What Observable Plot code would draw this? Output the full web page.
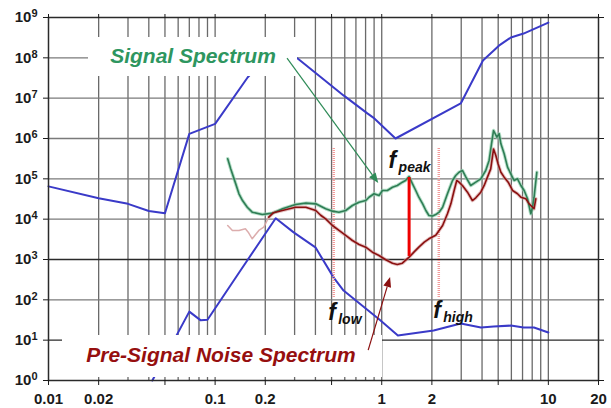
<!DOCTYPE html>
<html><head><meta charset="utf-8">
<script src="https://cdn.jsdelivr.net/npm/d3@7"></script>
<script src="https://cdn.jsdelivr.net/npm/@observablehq/plot@0.6"></script>
<style>
html,body{margin:0;padding:0;background:#fff;}
#chart{width:611px;height:408px;}
</style></head><body><div id="chart"></div>
<script>
// ---- axes / ticks ----
const xTicks = [0.01,0.02,0.05,0.1,0.2,0.5,1,2,5,10,20];
const xTickLabels = ["0.01","0.02","0.05","0.1","0.2","0.5","1","2","5","10","20"];
const yTicks = [1,1e1,1e2,1e3,1e4,1e5,1e6,1e7,1e8,1e9];
const yTickBase = "10";
const yTickExp = ["0","1","2","3","4","5","6","7","8","9"];
const gridX = [0.02,0.03,0.04,0.05,0.06,0.07,0.08,0.09,0.1,0.2,0.3,0.4,0.5,0.6,0.7,0.8,0.9,1,2,3,4,5,6,7,8,9,10];
const gridYLight = [1e2,1e4,1e5,1e6,1e7,1e8];
const gridYDark = [1e1,1e3];

// ---- upper blue envelope ----
const upperF = [0.01,0.02,0.03,0.04,0.05,0.07,0.1,0.157,0.22,0.313,0.59,0.82,0.89,1.21,2.98,4.05,5.05,5.96,7.1,10];
const upperP = [6.5e4,3.3e4,2.4e4,1.6e4,1.4e4,1.3e6,2.3e6,3.3e7,1.5e8,9.6e7,1.17e7,4.2e6,3.3e6,1e6,7.4e6,8.6e7,2e8,3.2e8,4e8,7.5e8];

// ---- lower blue envelope ----
const lowerF = [0.042,0.07,0.082,0.09,0.142,0.231,0.296,0.40,0.515,0.59,0.98,1.25,2.05,2.98,3.94,4.7,5.96,7.1,8.2,10];
const lowerP = [1,51,31,32,535,1.05e4,4.7e3,2e3,355,170,31,13,17.4,26,20.6,21.8,23,20.6,20.6,15.5];

// ---- signal spectrum ----
const sigF = [0.119,0.124,0.133,0.139,0.146,0.156,0.167,0.192,0.221,0.254,0.304,0.350,0.402,0.461,0.506,0.554,0.608,0.667,0.731,0.802,0.839,0.899,0.963,1.01,1.08,1.16,1.24,1.33,1.39,1.46,1.53,1.60,1.67,1.76,1.84,1.92,2.02,2.11,2.21,2.32,2.48,2.66,2.78,2.91,3.05,3.20,3.42,3.67,3.93,4.21,4.41,4.56,4.69,4.91,5.07,5.19,5.43,5.69,5.95,6.23,6.53,6.84,7.16,7.50,7.85,8.04,8.21,8.53];
const sigP = [3.14e5,1.77e5,7.5e4,4.26e4,2.9e4,1.98e4,1.49e4,1.31e4,1.41e4,1.81e4,2.3e4,2.5e4,2.4e4,1.81e4,1.58e4,1.49e4,1.64e4,2.18e4,2.64e4,2.9e4,3.5e4,4.26e4,3.87e4,5.14e4,5.14e4,6.2e4,6.84e4,8.26e4,9.1e4,1.14e5,7.5e4,5.14e4,3.5e4,2.4e4,1.64e4,1.23e4,1.2e4,1.3e4,1.49e4,1.98e4,4.26e4,9.1e4,1.21e5,1.46e5,1.61e5,1.1e5,6.84e4,8.26e4,1.0e5,1.61e5,2.85e5,7.4e5,1.58e6,1.08e6,1.31e6,7.4e5,4.18e5,1.95e5,1.33e5,9.1e4,1.0e5,6.84e4,5.14e4,3.2e4,1.36e4,1.98e4,3.5e4,1.46e5];

// ---- pre-signal noise spectrum ----
const noiseF = [0.119,0.127,0.139,0.152,0.158,0.167,0.183,0.196,0.210,0.224,0.253,0.304,0.350,0.402,0.430,0.461,0.506,0.554,0.608,0.667,0.731,0.802,0.879,0.963,1.057,1.16,1.24,1.33,1.46,1.56,1.67,1.80,1.92,2.11,2.21,2.32,2.48,2.60,2.72,2.82,2.91,3.05,3.27,3.50,3.67,3.93,4.12,4.31,4.51,4.69,4.84,4.99,5.19,5.43,5.74,6.10,6.53,6.84,7.33,7.67,8.04,8.21,8.41];
const noiseP = [6.97e3,5.24e3,5.24e3,5.77e3,4.75e3,3.26e3,5.24e3,6.32e3,1.12e4,1.45e4,1.64e4,1.98e4,1.98e4,1.64e4,1.25e4,1.02e4,6.97e3,5.24e3,3.94e3,2.96e3,2.36e3,2.02e3,1.52e3,1.26e3,984,811,752,811,1.14e3,1.52e3,2.02e3,2.69e3,3.26e3,4.0e3,5.24e3,6.97e3,1.36e4,2.4e4,5.14e4,9.1e4,8.26e4,6.84e4,4.67e4,2.9e4,3.39e4,4.67e4,6.84e4,1.1e5,1.77e5,5.5e5,3.79e5,2.36e5,1.46e5,1.1e5,8.26e4,5.14e4,4.26e4,3.51e4,3.2e4,2.4e4,1.98e4,1.82e4,3.2e4];

// ---- annotation values ----
const bandF = [0.515, 2.20];        // f_low, f_high
const bandRange = [115, 5.7e5];
const peakF = [1.46];               // f_peak
const peakRange = [1.19e3, 1.08e5];
const sigArrow = {x1:0.272, y1:9.6e7, x2:0.96, y2:7.7e4};
const noiseArrow = {x1:0.835, y1:5.5, x2:1.13, y2:358};

const toRows = (F, P) => F.map((f, i) => ({f, p: P[i]}));
const upper = toRows(upperF, upperP);
const lower = toRows(lowerF, lowerP);
const sig = toRows(sigF, sigP);
const noise = toRows(noiseF, noiseP);

const xLab = new Map(xTicks.map((t, i) => [t, xTickLabels[i]]));
const yLab = new Map(yTicks.map((t, i) => [t, yTickBase + "^" + yTickExp[i]]));

const chart = Plot.plot({
  width: 611, height: 408,
  marginLeft: 48, marginRight: 13, marginTop: 17, marginBottom: 28,
  x: {type: "log", domain: [0.01, 20]},
  y: {type: "log", domain: [1, 1e9]},
  style: {fontFamily: "'Liberation Sans', Arial, sans-serif", fontSize: "15px", fontWeight: "bold", color: "#1a1a1a", background: "#fff"},
  marks: [
    Plot.ruleX(gridX, {stroke: "#6a6a6a", strokeWidth: 1.3}),
    Plot.ruleY(gridYLight, {stroke: "#7a7a7a", strokeWidth: 1.3}),
    Plot.ruleY(gridYDark, {stroke: "#2a2a2a", strokeWidth: 1.3}),
    Plot.line(upper, {x: "f", y: "p", stroke: "#3a3ac8", strokeWidth: 2}),
    Plot.line(lower, {x: "f", y: "p", stroke: "#3a3ac8", strokeWidth: 2}),
    Plot.ruleX(bandF, {y1: bandRange[0], y2: bandRange[1], stroke: "#f29a9a", strokeWidth: 2.5, strokeDasharray: "1,1"}),
    Plot.line(sig, {x: "f", y: "p", stroke: "#8fd0ac", strokeWidth: 3.5, strokeOpacity: 0.65}),
    Plot.line(noise, {x: "f", y: "p", stroke: "#d8a4a4", strokeWidth: 1.5, strokeOpacity: 0.9, filter: d => d.f < 0.23}),
    Plot.line(noise, {x: "f", y: "p", stroke: "#d49a9a", strokeWidth: 3.5, strokeOpacity: 0.6, filter: d => d.f >= 0.2}),
    Plot.line(sig, {x: "f", y: "p", stroke: "#2f7d55", strokeWidth: 1.6}),
    Plot.line(noise, {x: "f", y: "p", stroke: "#8b1010", strokeWidth: 1.6, filter: d => d.f >= 0.2}),
    Plot.ruleX(peakF, {y1: peakRange[0], y2: peakRange[1], stroke: "#ee0000", strokeWidth: 3}),
    Plot.frame({stroke: "#2a2a2a", strokeWidth: 1.5}),
    Plot.axisX({ticks: xTicks, tickFormat: d => xLab.get(d), tickSize: 5, tickPadding: 8, label: null, fontSize: 15, fontWeight: "bold"}),
    Plot.axisX({anchor: "top", ticks: xTicks, tickFormat: () => "", tickSize: 4, label: null}),
    Plot.axisY({ticks: yTicks, tickFormat: d => yLab.get(d), tickSize: 5, tickPadding: 12, label: null, fontSize: 15, fontWeight: "bold"}),
    Plot.axisY({anchor: "right", ticks: yTicks, tickFormat: () => "", tickSize: 5, label: null})
  ]
});
document.getElementById("chart").appendChild(chart);

// ---- y tick labels: render exponent as a raised superscript ----
d3.select(chart).selectAll("text").each(function () {
  const t = d3.select(this);
  const s = t.text();
  if (/^10\^\d$/.test(s)) {
    const [b, e] = s.split("^");
    t.text(null);
    t.append("tspan").text(b);
    t.append("tspan").attr("dy", "-0.45em").attr("font-size", 11).text(e);
    // shift so the whole label stays right-aligned near the tick
    t.attr("transform", (t.attr("transform") || "") + " translate(6,0)");
  }
});

// ---- annotations on top ----
const sx = chart.scale("x"), sy = chart.scale("y");
const svg = d3.select(chart);
const g = svg.append("g");
const font = "'Liberation Sans', Arial, sans-serif";

g.append("rect").attr("x", 88).attr("y", 37).attr("width", 209).attr("height", 39).attr("fill", "#fff");
g.append("rect").attr("x", 62).attr("y", 335).attr("width", 320).attr("height", 42).attr("fill", "#fff");

function label(xp, yp, s, size, color, anchor) {
  return g.append("text").attr("x", xp).attr("y", yp).attr("text-anchor", anchor || "start")
    .attr("font-family", font).attr("font-weight", "bold").attr("font-style", "italic")
    .attr("font-size", size).attr("fill", color).text(s);
}
label(193, 63, "Signal Spectrum", 21, "#2e965f", "middle");
label(221, 362, "Pre-Signal Noise Spectrum", 21, "#960f0f", "middle");

function arrow(a, color) {
  const x1 = sx.apply(a.x1), y1 = sy.apply(a.y1), x2 = sx.apply(a.x2), y2 = sy.apply(a.y2);
  const ang = Math.atan2(y2 - y1, x2 - x1), L = 10, W = 4;
  const bx = x2 - L * Math.cos(ang), by = y2 - L * Math.sin(ang);
  g.append("line").attr("x1", x1).attr("y1", y1).attr("x2", bx).attr("y2", by)
    .attr("stroke", color).attr("stroke-width", 1.2);
  g.append("polygon").attr("points", [
    [x2, y2],
    [bx + W * Math.sin(ang), by - W * Math.cos(ang)],
    [bx - W * Math.sin(ang), by + W * Math.cos(ang)]
  ].map(p => p.join(",")).join(" ")).attr("fill", color);
}
arrow(sigArrow, "#2e8b57");
arrow(noiseArrow, "#8b0f0f");

function fLabel(xp, yp, sub) {
  label(xp, yp, "f", 23, "#111");
  label(xp + 10, yp + 4, sub, 14, "#111");
}
fLabel(sx.apply(peakF[0]) - 20, 168, "peak");
fLabel(sx.apply(bandF[0]) - 5, 320, "low");
fLabel(sx.apply(bandF[1]) - 5, 318, "high");
</script></body></html>
